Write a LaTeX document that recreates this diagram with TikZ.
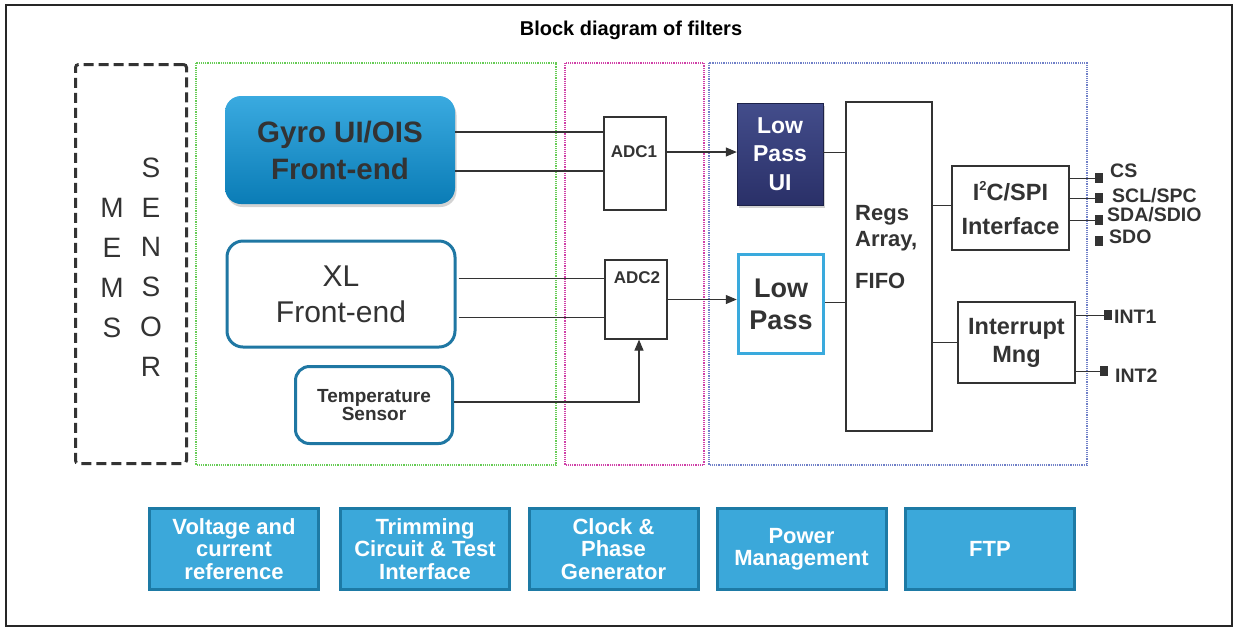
\documentclass[tikz,border=0pt]{standalone}
\usepackage{fontspec}
\setmainfont{Liberation Sans}
\usepackage{xcolor}
\usetikzlibrary{arrows.meta, positioning, shadows}

\definecolor{ink}{HTML}{333333}
\definecolor{gyrotop}{HTML}{3AAAE0}
\definecolor{gyrobot}{HTML}{0A7CB6}
\definecolor{xlblue}{HTML}{1F77A3}
\definecolor{navytop}{HTML}{434D8B}
\definecolor{navybot}{HTML}{2A3068}
\definecolor{lpblue}{HTML}{3AAADD}
\definecolor{botfill}{HTML}{3BA8DA}
\definecolor{botedge}{HTML}{1D7AA5}
\definecolor{grpgreen}{HTML}{66CC55}
\definecolor{grppink}{HTML}{D040A8}
\definecolor{grpblue}{HTML}{7080C8}
\newcommand{\fs}[2]{\fontsize{#1}{#2}\selectfont}

\begin{document}
\begin{tikzpicture}[x=1pt, y=-1pt,
    wire/.style={draw=ink, line width=1.5pt},
    thin wire/.style={draw=ink, line width=1pt},
    sig/.style={draw=ink, line width=1.2pt, -{Triangle[length=11pt,width=9pt]}},
    grp/.style={dash pattern=on 1.2pt off 1pt, line width=1.1pt},
    plainbox/.style={draw=ink, line width=1.2pt, fill=white, inner sep=0pt},
    fe/.style={rounded corners=16pt, inner sep=0pt, align=center, text=ink},
    pinsq/.style={fill=ink, minimum width=8pt, minimum height=10pt, inner sep=0pt},
    pinlbl/.style={anchor=west, inner sep=0pt, text=ink, font=\bfseries\fs{19.5}{20}},
    boldtxt/.style={text=ink, font=\bfseries\fs{23.5}{28}, align=center},
    botbox/.style={fill=botfill, draw=botedge, line width=3pt, minimum width=169pt,
        minimum height=81pt, inner sep=0pt, text=white, font=\bfseries\fs{22}{22.5}, align=center}]
    \useasboundingbox (0,0) rectangle (1238,633);

    % Frame and title
    \draw[line width=1.6pt, draw=black!85] (6,5) rectangle (1232,626);
    \node[font=\bfseries\fs{20}{22}] (title) at (631,30) {Block diagram of filters};

    % Groups
    \draw[grp, grpgreen] (196,63) rectangle (556,465);
    \draw[grp, grppink] (565,63) rectangle (704,465);
    \draw[grp, grpblue] (709,63) rectangle (1087,465);

    % MEMS sensor
    \node[draw=ink, line width=3pt, dash pattern=on 10pt off 5pt, rounded corners=3pt,
        minimum width=111pt, minimum height=399pt] (mems) at (131,264) {};
    \node[text=ink, font=\fs{28}{39.7}, align=center] (memsA) at (112,268) {M\\E\\M\\S};
    \node[text=ink, font=\fs{28}{39.7}, align=center] (memsB) at (151,267) {S\\E\\N\\S\\O\\R};

    % Front-ends
    \node[fe, top color=gyrotop, bottom color=gyrobot, draw=none,
        drop shadow={opacity=0.35, shadow xshift=1.5pt, shadow yshift=-3pt},
        minimum width=230pt, minimum height=108pt, font=\bfseries\fs{29.5}{37}] (gyro) at (340,150) {Gyro UI/OIS\\Front-end};
    \node[fe, draw=xlblue, line width=3pt, fill=white, minimum width=228pt, minimum height=106pt,
        font=\fs{30}{36}] (xl) at (341,294) {XL\\Front-end};
    \node[fe, draw=xlblue, line width=3pt, fill=white, rounded corners=14pt, minimum width=157pt,
        minimum height=77pt, font=\bfseries\fs{19}{18}] (temp) at (374,405) {Temperature\\Sensor};

    % ADCs
    \node[plainbox, minimum width=62pt, minimum height=93pt] (adc1) at (635,163.5) {};
    \node[text=ink, font=\bfseries\fs{17}{18}] (adc1lbl) at (634,152) {ADC1};
    \node[plainbox, minimum width=62pt, minimum height=79pt] (adc2) at (636,299.5) {};
    \node[text=ink, font=\bfseries\fs{17}{18}] (adc2lbl) at (637,278) {ADC2};

    % Filters
    \node[boldtxt, text=white, top color=navytop, bottom color=navybot, draw=navybot!70!black,
        drop shadow={opacity=0.35, shadow xshift=1.5pt, shadow yshift=-3pt},
        minimum width=86pt, minimum height=102pt, inner sep=0pt, font=\bfseries\fs{23}{28.5}] (lpui) at (780,154) {Low\\Pass\\UI};
    \node[boldtxt, draw=lpblue, line width=3.5pt, fill=white, minimum width=85pt, minimum height=99pt,
        inner sep=0pt, font=\bfseries\fs{27}{32}] (lp) at (781,304) {Low\\Pass};

    % Registers and interfaces
    \node[plainbox, minimum width=86pt, minimum height=329pt] (regs) at (889,266.5) {};
    \node[boldtxt, anchor=west, align=left, inner sep=0pt, font=\bfseries\fs{22}{26}] (regslbl) at (855,247) {Regs\\Array,\\[16pt]FIFO};
    \node[plainbox, boldtxt, minimum width=117pt, minimum height=84pt, font=\bfseries\fs{23.5}{34}] (i2c) at (1010.5,208) {I\raisebox{0.75ex}{\fs{13}{13}2}C/SPI\\Interface};
    \node[plainbox, boldtxt, minimum width=117pt, minimum height=81pt] (intm) at (1016.5,342.5) {Interrupt\\Mng};

    % Pins
    \foreach \n/\px/\py/\tx/\ty/\t in {pcs/1099/178/1110/171/CS, pscl/1099/198/1112/196/{SCL/SPC},
        psda/1099/220/1107/215/{SDA/SDIO}, psdo/1099/241/1109/237/SDO,
        pint1/1108/315/1114/317/INT1, pint2/1104/371/1115/376/INT2} {
        \node[pinsq] (\n) at (\px,\py) {};
        \node[pinlbl] (\n lbl) at (\tx,\ty) {\t};
    }

    % Connections
    \draw[wire] ([yshift=18pt]gyro.east) -- ([yshift=18pt]gyro.east -| adc1.west);
    \draw[wire] ([yshift=-21pt]gyro.east) -- ([yshift=-21pt]gyro.east -| adc1.west);
    \draw[thin wire] ([yshift=16pt,xshift=2pt]xl.east) -- ([yshift=16pt]xl.east -| adc2.west);
    \draw[thin wire] ([yshift=-23pt,xshift=2pt]xl.east) -- ([yshift=-23pt]xl.east -| adc2.west);
    \draw[sig] ([yshift=3pt]temp.east) -| ([xshift=3pt]adc2.south);
    \draw[sig] ([yshift=2pt]lpui.west -| adc1.east) -- ([yshift=2pt]lpui.west);
    \draw[sig] (adc2.east) -- (adc2.east -| lp.west);
    \draw[thin wire] ([yshift=2pt]lpui.east) -- ([yshift=2pt]lpui.east -| regs.west);
    \draw[thin wire] ([yshift=2pt]lp.east) -- ([yshift=2pt]lp.east -| regs.west);
    \draw[thin wire] ([yshift=3pt]i2c.west) -- ([yshift=3pt]i2c.west -| regs.east);
    \draw[thin wire] (intm.west) -- (intm.west -| regs.east);
    \foreach \p in {pcs,pscl,psda}
        \draw[thin wire] (\p.west -| i2c.east) -- (\p.west);
    \foreach \p in {pint1,pint2}
        \draw[thin wire] (\p.west -| intm.east) -- (\p.west);

    % Support blocks
    \foreach \n/\cx/\t in {vref/234/{Voltage and\\current\\reference}, trim/425/{Trimming\\Circuit \& Test\\Interface},
        clk/613.5/{Clock \&\\Phase\\Generator}, pwr/801.5/{Power\\Management}, ftp/990/FTP}
        \node[botbox] (\n) at (\cx,549) {\t};
\end{tikzpicture}
\end{document}
